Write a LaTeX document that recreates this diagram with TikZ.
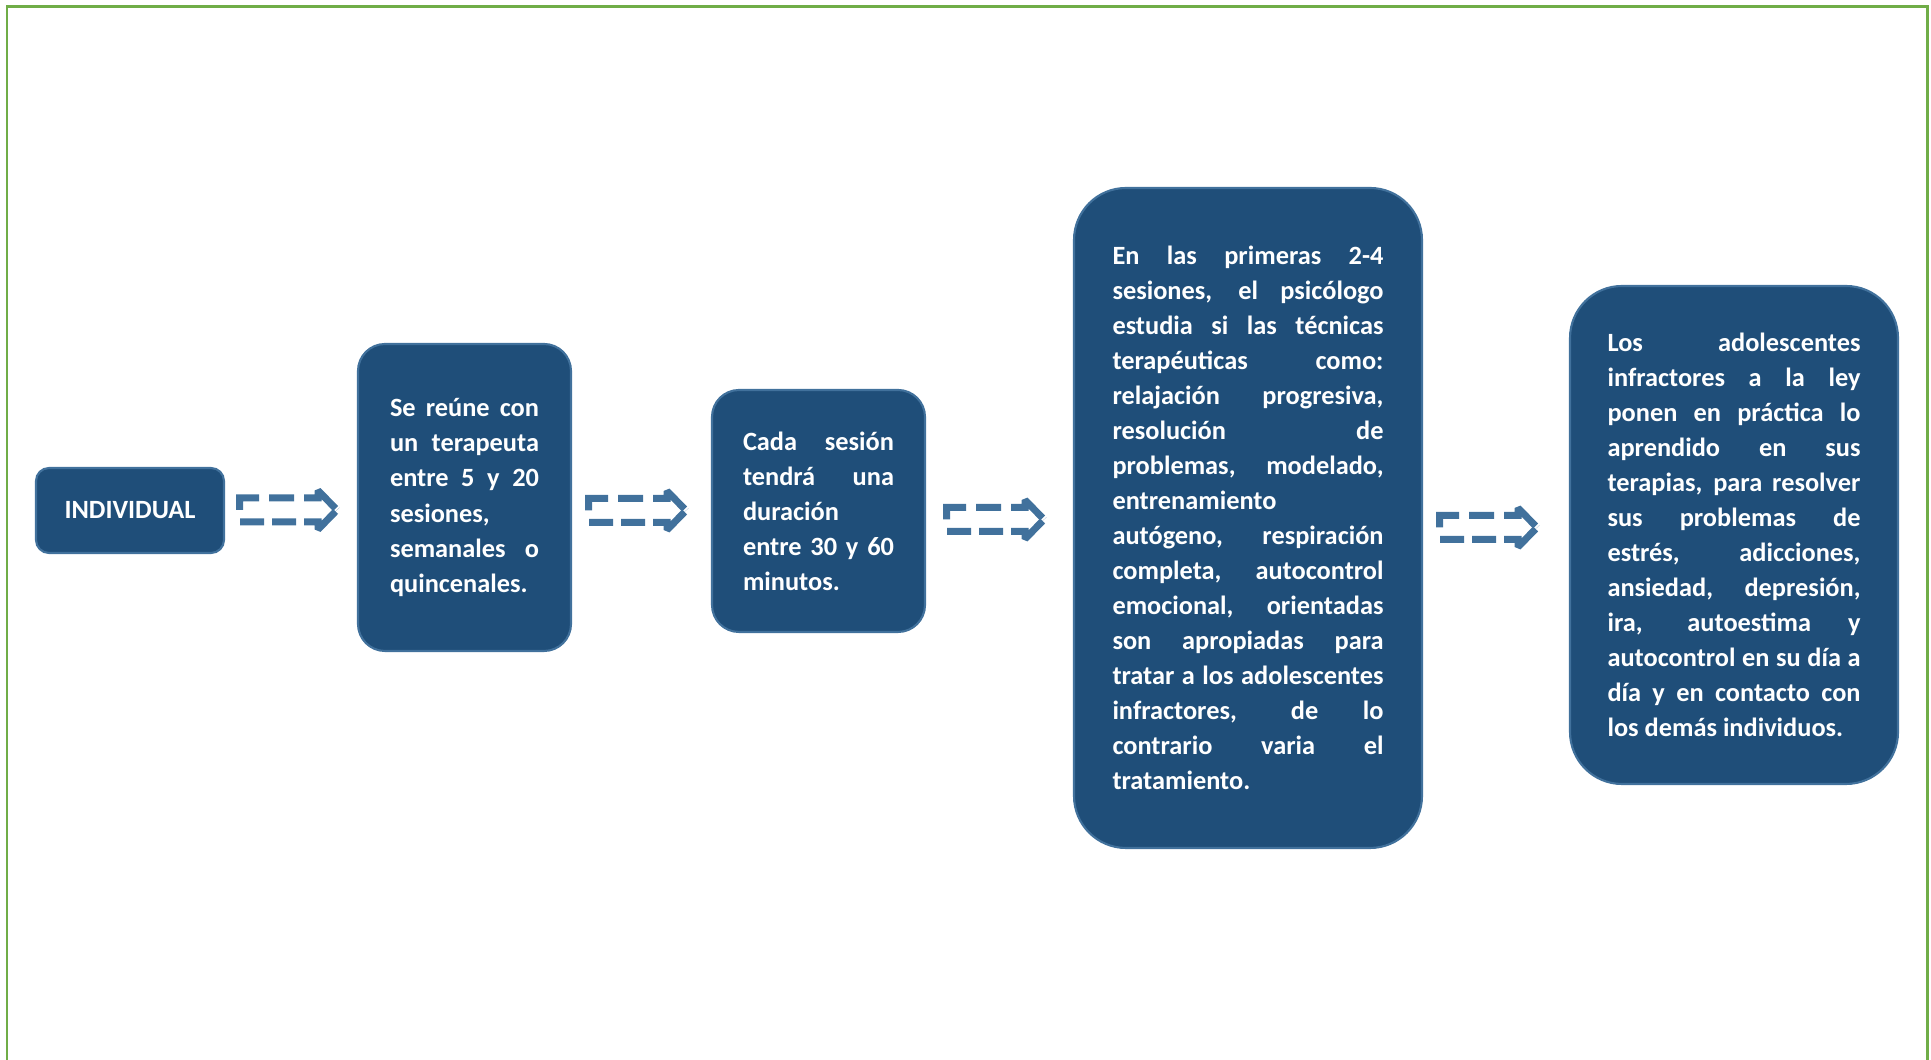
\documentclass[tikz,border=0pt]{standalone}
\usepackage{fontspec}
\setmainfont{Carlito}
\usepackage{tikz}
\definecolor{boxblue}{HTML}{1F4E79}
\definecolor{edgeblue}{HTML}{41719C}
\definecolor{framegreen}{HTML}{70AD47}
\hbadness=10000
\begin{document}
\begin{tikzpicture}[
		stepbox/.style={draw=edgeblue, line width=0.6pt, fill=boxblue, text=white, align=justify,
			font=\fontsize{7.5pt}{9.97pt}\selectfont\bfseries, inner sep=0pt},
		dashline/.style={edgeblue, line width=0.07cm, line join=miter, miter limit=1.5},
		flecha/.pic={
			\draw [dashline, dash pattern=on 0.465cm off 0.1cm on 0.25cm off 0.1cm on 0.5cm off 0.02cm, dash phase=1.415cm]
				(0.975,0) -- (0.785,0.195) -- (0.785,0.12) -- (0,0.12) -- (0,0);
			\draw [dashline, dash pattern=on 0.465cm off 0.08cm on 0.24cm off 0.08cm on 0.24cm off 0.52cm, dash phase=1.605cm]
				(0.975,0) -- (0.785,-0.195) -- (0.785,-0.12) -- (0,-0.12) -- (0,0);
		}
	]
			\useasboundingbox (0,0) rectangle (19.31,10.6);
			\draw [framegreen, line width=0.75pt] (0.07,-0.1) -- (0.07,10.535) -- (19.275,10.535) -- (19.275,-0.1);
			\node [stepbox, align=center, rounded corners=0.13cm, minimum width=1.88cm, minimum height=0.85cm] (indiv) at (1.30,5.495) {INDIVIDUAL};
			\node [stepbox, rounded corners=0.27cm, minimum width=2.13cm, minimum height=3.07cm, text width=1.49cm] (reune) at (4.645,5.625)
				{Se reúne con\linebreak un terapeuta\linebreak entre 5 y 20\linebreak sesiones,\linebreak semanales o\linebreak quincenales.};
			\node [stepbox, rounded corners=0.27cm, minimum width=2.13cm, minimum height=2.42cm, text width=1.51cm] (sesion) at (8.185,5.49)
				{Cada sesión\linebreak tendrá una\linebreak duración\linebreak entre 30 y 60\linebreak minutos.};
			\node [stepbox, rounded corners=0.52cm, minimum width=3.48cm, minimum height=6.60cm, text width=2.71cm] (tecnicas) at (12.48,5.42)
				{En las primeras 2-4\linebreak sesiones, el psicólogo\linebreak estudia si las técnicas\linebreak terapéuticas como:\linebreak relajación progresiva,\linebreak resolución de\linebreak problemas, modelado,\linebreak entrenamiento\linebreak autógeno, respiración\linebreak completa, autocontrol\linebreak emocional, orientadas\linebreak son apropiadas para\linebreak tratar a los adolescentes\linebreak infractores, de lo\linebreak contrario varia el\linebreak tratamiento.};
			\node [stepbox, rounded corners=0.52cm, minimum width=3.28cm, minimum height=4.98cm, text width=2.53cm] (practica) at (17.34,5.25)
				{Los adolescentes\linebreak infractores a la ley\linebreak ponen en práctica lo\linebreak aprendido en sus\linebreak terapias, para resolver\linebreak sus problemas de\linebreak estrés, adicciones,\linebreak ansiedad, depresión,\linebreak ira, autoestima y\linebreak autocontrol en su día a\linebreak día y en contacto con\linebreak los demás individuos.};
			\pic (flecha1) at (2.395,5.50) {flecha};
			\pic (flecha2) at (5.885,5.495) {flecha};
			\pic (flecha3) at (9.465,5.405) {flecha};
			\pic (flecha4) at (14.395,5.325) {flecha};
		\end{tikzpicture}
\end{document}
